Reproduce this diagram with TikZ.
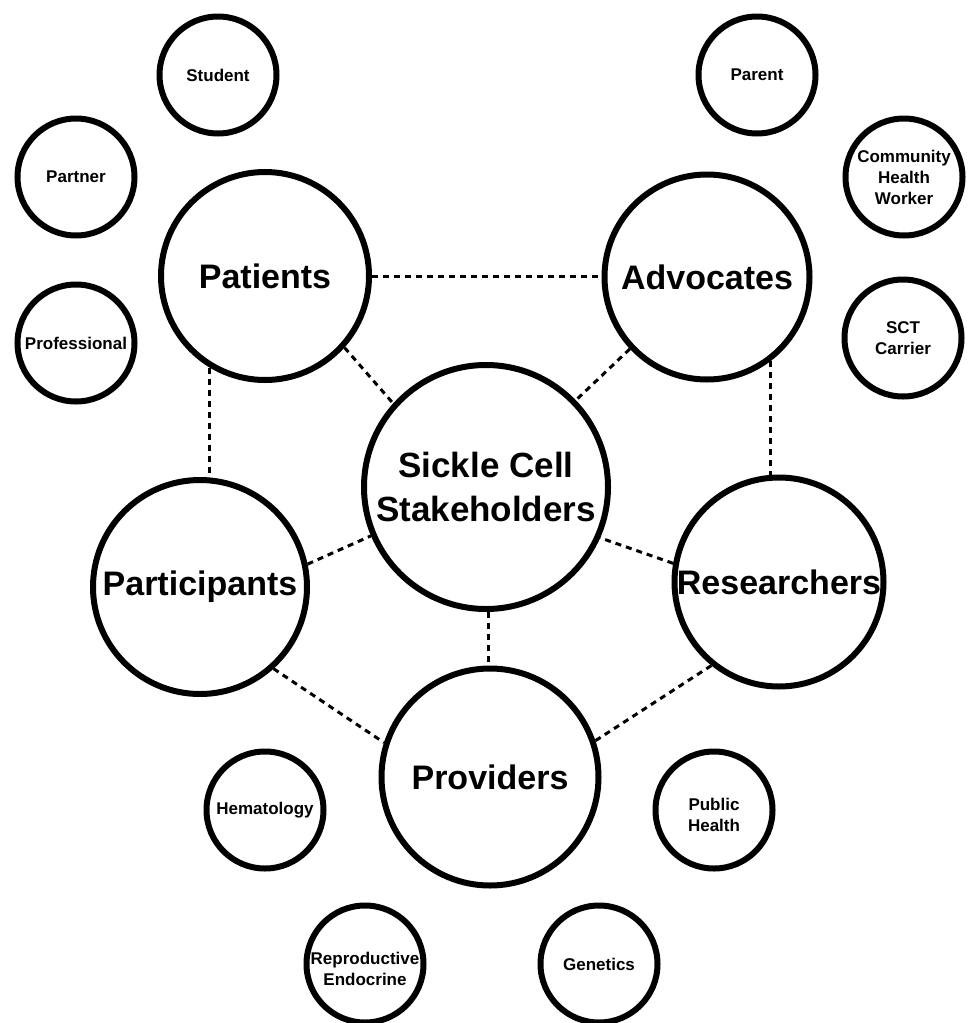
\documentclass[tikz,border=0pt]{standalone}
\usepackage{fontspec}
\setmainfont{Liberation Sans}
\begin{document}
\begin{tikzpicture}[x=1pt,y=-1pt,
  hub/.style={circle,draw=black,line width=6pt,fill=white,inner sep=0pt,align=center,
    font=\bfseries\fontsize{34}{42}\selectfont},
  sub/.style={circle,draw=black,line width=6pt,fill=white,inner sep=0pt,align=center,
    minimum size=117pt,font=\bfseries\fontsize{17}{21}\selectfont},
  link/.style={draw=black,line width=3pt,dash pattern=on 6pt off 5pt}]
\useasboundingbox[fill=white] (0,0) rectangle (968,1023);

% main groups
\node[hub,minimum size=244pt,font=\bfseries\fontsize{35}{44}\selectfont] (sc) at (486,487) {Sickle Cell\\Stakeholders};
\node[hub,minimum size=208pt] (pat) at (265,276) {Patients};
\node[hub,minimum size=205pt] (adv) at (707,277) {Advocates};
\node[hub,minimum size=214pt] (par) at (200,587) {Participants};
\node[hub,minimum size=209pt] (res) at (779,582) {Researchers};
\node[hub,minimum size=217pt] (prov) at (490,777) {Providers};

% sub-groups
\node[sub] (stu) at (218,75) {Student};
\node[sub] (ptn) at (76,177) {Partner};
\node[sub] (pro) at (76,343) {Professional};
\node[sub] (prt) at (757,75) {Parent};
\node[sub] (chw) at (904,177) {Community\\Health\\Worker};
\node[sub] (sct) at (903,338) {SCT\\Carrier};
\node[sub] (hem) at (265,810) {Hematology};
\node[sub] (pub) at (714,810) {\rule{0pt}{22pt}Public\\Health};
\node[sub] (rep) at (365,964) {\rule{0pt}{22pt}Reproductive\\Endocrine};
\node[sub] (gen) at (599,964) {Genetics};

% dashed links between groups
\draw[link] (pat.east) -- (pat.east -| adv.west);
\draw[link] (pat.-42) -- (sc.138);
\draw[link] (adv.-137) -- (sc.44);
\draw[link] (pat.-121) -- (pat.-121 |- par.north);
\draw[link] (adv.-53) -- (adv.-53 |- res.north);
\draw[link] (par.12) -- (sc.-157);
\draw[link] (res.170) -- (sc.-24);
\draw[link] (par.-48) -- (prov.162);
\draw[link] (res.-129) -- (prov.19);
\draw[link] (sc.-89) -- (sc.-89 |- prov.north);
\end{tikzpicture}
\end{document}
